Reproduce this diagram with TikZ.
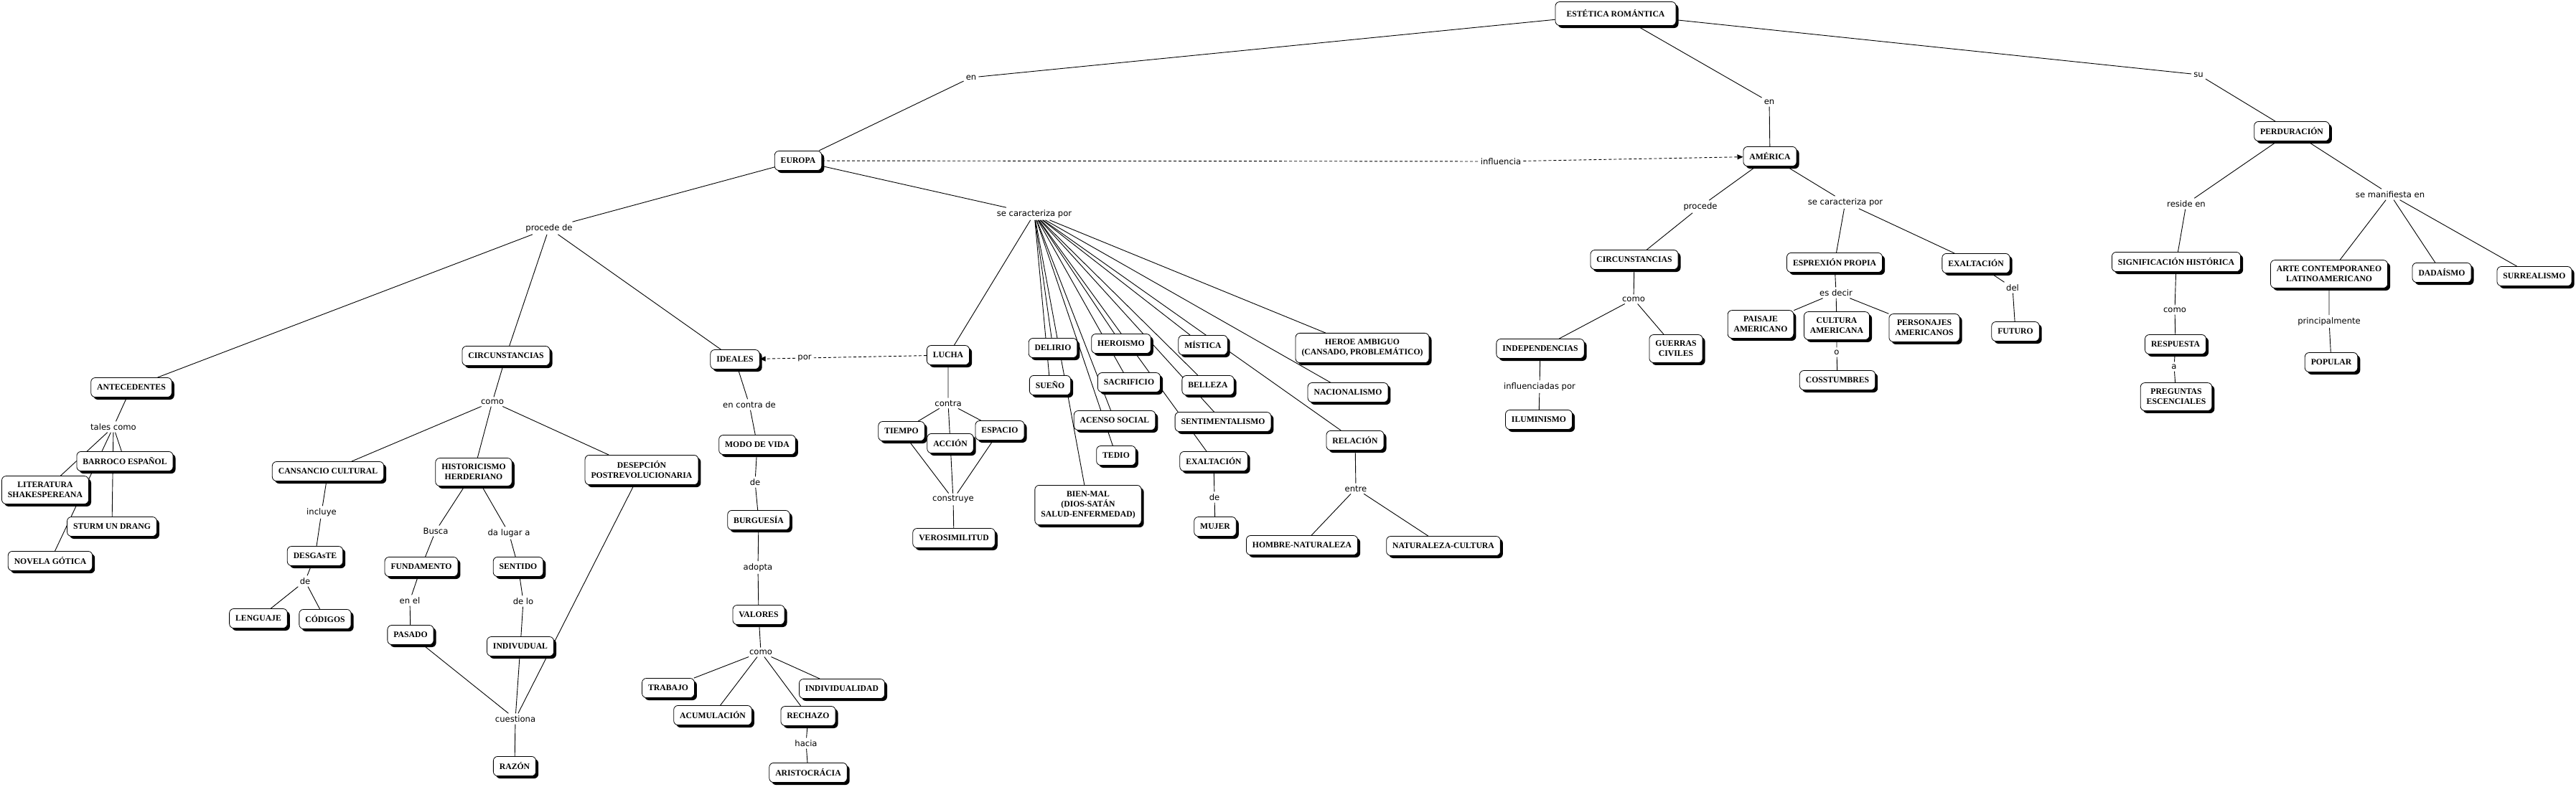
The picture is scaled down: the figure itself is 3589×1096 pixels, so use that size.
\documentclass[tikz,border=0pt]{standalone}
\usepackage{fontspec}
\setmainfont{Liberation Serif}
\newfontfamily\etiqfont{DejaVu Sans}
\usetikzlibrary{arrows.meta,shadows,backgrounds}

\begin{document}
\begin{tikzpicture}[x=1pt,y=-1pt,
  concepto/.style={draw,fill=white,rounded corners=6pt,line width=0.8pt,align=center,
    inner xsep=8.5pt,inner ysep=8.5pt,minimum height=27pt,
    font=\fontsize{11.7}{14}\selectfont\bfseries,
    general shadow={fill=black,shadow xshift=3.5pt,shadow yshift=-3.5pt}},
  enlace/.style={inner sep=3pt,font=\etiqfont\fontsize{11.6}{13.5}\selectfont},
  linea/.style={line width=0.9pt},
  flecha/.style={line width=0.9pt,dash pattern=on 4pt off 3pt,-{Triangle[length=8pt,width=7pt]}}]
\useasboundingbox (0,0) rectangle (3589,1096);

\node[concepto,minimum width=168pt,minimum height=33pt] (er) at (2251,19) {ESTÉTICA ROMÁNTICA};
\node[concepto] (europa) at (1112,224) {EUROPA};
\node[concepto] (america) at (2466,218) {AMÉRICA};
\node[concepto] (perd) at (3193,183) {PERDURACIÓN};

\node[concepto] (antec) at (183,540) {ANTECEDENTES};
\node[concepto] (circ) at (705,496) {CIRCUNSTANCIAS};
\node[concepto] (ideales) at (1024,501) {IDEALES};
\node[concepto] (barroco) at (174,643) {BARROCO ESPAÑOL};
\node[concepto] (litera) at (63,683) {LITERATURA\\SHAKESPEREANA};
\node[concepto] (sturm) at (156,734) {STURM UN DRANG};
\node[concepto] (novela) at (70,782) {NOVELA GÓTICA};
\node[concepto] (cansancio) at (457,657) {CANSANCIO CULTURAL};
\node[concepto] (histor) at (660,658) {HISTORICISMO\\HERDERIANO};
\node[concepto] (desep) at (894,655) {DESEPCIÓN\\POSTREVOLUCIONARIA};
\node[concepto] (desgaste) at (439,775) {DESGAsTE};
\node[concepto] (lenguaje) at (360,862) {LENGUAJE};
\node[concepto] (codigos) at (453,863) {CÓDIGOS};
\node[concepto] (fundam) at (587,790) {FUNDAMENTO};
\node[concepto] (sentido) at (722,790) {SENTIDO};
\node[concepto] (pasado) at (572,885) {PASADO};
\node[concepto] (indiv) at (725,901) {INDIVUDUAL};
\node[concepto] (razon) at (717,1068) {RAZÓN};
\node[concepto] (modo) at (1055,620) {MODO DE VIDA};
\node[concepto] (burg) at (1057,725) {BURGUESÍA};
\node[concepto] (valores) at (1057,857) {VALORES};
\node[concepto] (trabajo) at (931,959) {TRABAJO};
\node[concepto] (individ) at (1173,960) {INDIVIDUALIDAD};
\node[concepto] (acumul) at (993,997) {ACUMULACIÓN};
\node[concepto] (rechazo) at (1126,998) {RECHAZO};
\node[concepto] (aristo) at (1126,1077) {ARISTOCRÁCIA};
\node[concepto] (lucha) at (1321,495) {LUCHA};
\node[concepto] (tiempo) at (1256,601) {TIEMPO};
\node[concepto] (accion) at (1324,618) {ACCIÓN};
\node[concepto] (espacio) at (1393,600) {ESPACIO};
\node[concepto] (verosim) at (1329,750) {VEROSIMILITUD};
\node[concepto] (delirio) at (1467,485) {DELIRIO};
\node[concepto] (sueno) at (1463,537) {SUEÑO};
\node[concepto] (heroismo) at (1562,479) {HEROISMO};
\node[concepto] (sacrif) at (1573,533) {SACRIFICIO};
\node[concepto] (acenso) at (1553,586) {ACENSO SOCIAL};
\node[concepto] (tedio) at (1555,635) {TEDIO};
\node[concepto] (bienmal) at (1516,704) {BIEN-MAL\\(DIOS-SATÁN\\SALUD-ENFERMEDAD)};
\node[concepto] (mistica) at (1676,481) {MÍSTICA};
\node[concepto] (belleza) at (1683,537) {BELLEZA};
\node[concepto] (sentim) at (1704,588) {SENTIMENTALISMO};
\node[concepto] (exaltEu) at (1691,643) {EXALTACIÓN};
\node[concepto] (mujer) at (1693,734) {MUJER};
\node[concepto] (heroe) at (1898,485) {HEROE AMBIGUO\\(CANSADO, PROBLEMÁTICO)};
\node[concepto] (nacional) at (1878,547) {NACIONALISMO};
\node[concepto] (relacion) at (1888,614) {RELACIÓN};
\node[concepto] (hombrenat) at (1814,760) {HOMBRE-NATURALEZA};
\node[concepto] (natcult) at (2011,761) {NATURALEZA-CULTURA};

\node[concepto] (circAm) at (2277,362) {CIRCUNSTANCIAS};
\node[concepto] (indep) at (2146,486) {INDEPENDENCIAS};
\node[concepto] (guerras) at (2335,486) {GUERRAS\\CIVILES};
\node[concepto] (ilum) at (2144,585) {ILUMINISMO};
\node[concepto] (esprex) at (2556,366) {ESPREXIÓN PROPIA};
\node[concepto] (exaltAm) at (2753,367) {EXALTACIÓN};
\node[concepto] (futuro) at (2808,462) {FUTURO};
\node[concepto] (paisaje) at (2453,452) {PAISAJE\\AMERICANO};
\node[concepto] (cultura) at (2559,454) {CULTURA\\AMERICANA};
\node[concepto] (personajes) at (2681,457) {PERSONAJES\\AMERICANOS};
\node[concepto] (costumbres) at (2560,530) {COSSTUMBRES};

\node[concepto] (signif) at (3032,365) {SIGNIFICACIÓN HISTÓRICA};
\node[concepto] (respuesta) at (3031,480) {RESPUESTA};
\node[concepto] (preguntas) at (3032,553) {PREGUNTAS\\ESCENCIALES};
\node[concepto] (arte) at (3245,382) {ARTE CONTEMPORANEO\\LATINOAMERICANO};
\node[concepto] (dada) at (3402,380) {DADAÍSMO};
\node[concepto] (surreal) at (3531,385) {SURREALISMO};
\node[concepto] (popular) at (3248,505) {POPULAR};

\node[enlace] (lEnEu) at (1353,108) {en};
\node[enlace] (lEnAm) at (2465,142) {en};
\node[enlace] (lSu) at (3063,104) {su};
\node[enlace] (lInfl) at (2091,225) {influencia};
\node[enlace] (lProcede) at (765,318) {procede de};
\node[enlace] (lCaract) at (1441,298) {se caracteriza por};
\node[enlace] (lTales) at (158,595) {tales como};
\node[enlace] (lComoC) at (686,560) {como};
\node[enlace] (lIncluye) at (448,714) {incluye};
\node[enlace] (lDeA) at (425,810) {de};
\node[enlace] (lBusca) at (607,740) {Busca};
\node[enlace] (lDaLugar) at (709,743) {da lugar a};
\node[enlace] (lEnEl) at (571,837) {en el};
\node[enlace] (lDeLo) at (729,838) {de lo};
\node[enlace] (lCuest) at (718,1002) {cuestiona};
\node[enlace] (lPor) at (1121,499) {por};
\node[enlace] (lContraDe) at (1044,564) {en contra de};
\node[enlace] (lDeB) at (1052,672) {de};
\node[enlace] (lAdopta) at (1056,791) {adopta};
\node[enlace] (lComoV) at (1060,909) {como};
\node[enlace] (lHacia) at (1123,1036) {hacia};
\node[enlace] (lContra) at (1321,562) {contra};
\node[enlace] (lConstruye) at (1328,696) {construye};
\node[enlace] (lDeC) at (1692,693) {de};
\node[enlace] (lEntre) at (1889,681) {entre};
\node[enlace] (lProcedeAm) at (2369,288) {procede};
\node[enlace] (lCaractAm) at (2571,282) {se caracteriza por};
\node[enlace] (lComoAm) at (2276,417) {como};
\node[enlace] (lInflPor) at (2145,539) {influenciadas por};
\node[enlace] (lEsDecir) at (2558,408) {es decir};
\node[enlace] (lO) at (2559,491) {o};
\node[enlace] (lDel) at (2804,401) {del};
\node[enlace] (lReside) at (3046,284) {reside en};
\node[enlace] (lManif) at (3330,271) {se manifiesta en};
\node[enlace] (lComoS) at (3030,432) {como};
\node[enlace] (lA) at (3029,511) {a};
\node[enlace] (lPrinc) at (3245,448) {principalmente};

\begin{scope}[on background layer]
\draw[linea] (er) -- (lEnEu) -- (europa);
\draw[linea] (er) -- (lEnAm) -- (america);
\draw[linea] (er) -- (lSu) -- (perd);
\draw[flecha] (europa) -- (lInfl) -- (america);
\draw[linea] (europa) -- (lProcede) -- (antec);
\draw[linea] (lProcede) -- (circ);
\draw[linea] (lProcede) -- (ideales);
\draw[linea] (europa) -- (lCaract) -- (lucha);
\draw[linea] (lCaract) -- (delirio);
\draw[linea] (lCaract) -- (sueno);
\draw[linea] (lCaract) -- (bienmal);
\draw[linea] (lCaract) -- (heroismo);
\draw[linea] (lCaract) -- (sacrif);
\draw[linea] (lCaract) -- (acenso);
\draw[linea] (lCaract) -- (tedio);
\draw[linea] (lCaract) -- (mistica);
\draw[linea] (lCaract) -- (belleza);
\draw[linea] (lCaract) -- (sentim);
\draw[linea] (lCaract) -- (exaltEu);
\draw[linea] (lCaract) -- (relacion);
\draw[linea] (lCaract) -- (nacional);
\draw[linea] (lCaract) -- (heroe);
\draw[linea] (antec) -- (lTales) -- (barroco);
\draw[linea] (lTales) -- (litera);
\draw[linea] (lTales) -- (sturm);
\draw[linea] (lTales) -- (novela);
\draw[linea] (circ) -- (lComoC) -- (cansancio);
\draw[linea] (lComoC) -- (histor);
\draw[linea] (lComoC) -- (desep);
\draw[linea] (cansancio) -- (lIncluye) -- (desgaste) -- (lDeA) -- (lenguaje);
\draw[linea] (lDeA) -- (codigos);
\draw[linea] (histor) -- (lBusca) -- (fundam) -- (lEnEl) -- (pasado);
\draw[linea] (histor) -- (lDaLugar) -- (sentido) -- (lDeLo) -- (indiv);
\draw[linea] (pasado) -- (lCuest) -- (razon);
\draw[linea] (indiv) -- (lCuest);
\draw[linea] (desep) -- (lCuest);
\draw[flecha] (lucha) -- (lPor) -- (ideales);
\draw[linea] (ideales) -- (lContraDe) -- (modo) -- (lDeB) -- (burg) -- (lAdopta) -- (valores) -- (lComoV) -- (trabajo);
\draw[linea] (lComoV) -- (acumul);
\draw[linea] (lComoV) -- (rechazo);
\draw[linea] (lComoV) -- (individ);
\draw[linea] (rechazo) -- (lHacia) -- (aristo);
\draw[linea] (lucha) -- (lContra) -- (tiempo);
\draw[linea] (lContra) -- (accion);
\draw[linea] (lContra) -- (espacio);
\draw[linea] (tiempo) -- (lConstruye) -- (verosim);
\draw[linea] (accion) -- (lConstruye);
\draw[linea] (espacio) -- (lConstruye);
\draw[linea] (exaltEu) -- (lDeC) -- (mujer);
\draw[linea] (relacion) -- (lEntre) -- (hombrenat);
\draw[linea] (lEntre) -- (natcult);
\draw[linea] (america) -- (lProcedeAm) -- (circAm) -- (lComoAm) -- (indep) -- (lInflPor) -- (ilum);
\draw[linea] (lComoAm) -- (guerras);
\draw[linea] (america) -- (lCaractAm) -- (esprex) -- (lEsDecir) -- (paisaje);
\draw[linea] (lEsDecir) -- (cultura) -- (lO) -- (costumbres);
\draw[linea] (lEsDecir) -- (personajes);
\draw[linea] (lCaractAm) -- (exaltAm) -- (lDel) -- (futuro);
\draw[linea] (perd) -- (lReside) -- (signif) -- (lComoS) -- (respuesta) -- (lA) -- (preguntas);
\draw[linea] (perd) -- (lManif) -- (arte) -- (lPrinc) -- (popular);
\draw[linea] (lManif) -- (dada);
\draw[linea] (lManif) -- (surreal);
\end{scope}
\end{tikzpicture}
\end{document}
